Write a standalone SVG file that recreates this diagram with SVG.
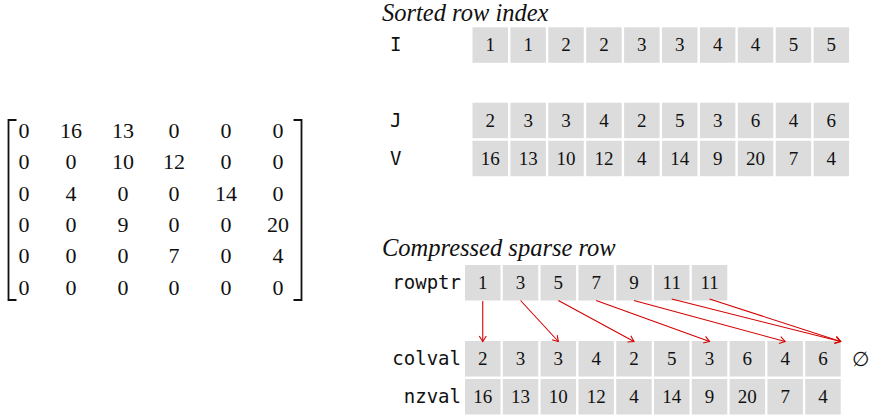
<svg xmlns="http://www.w3.org/2000/svg" width="875" height="417" viewBox="0 0 875 417">
<style>
.bg{fill:#ffffff}
.cell{fill:#dcdcdc}
.num{font-family:'Liberation Serif','Times New Roman','DejaVu Serif',serif;font-size:19px;fill:#111;text-anchor:middle}
.mat{font-family:'Liberation Serif','Times New Roman','DejaVu Serif',serif;font-size:22px;fill:#111;text-anchor:middle}
.lab{font-family:'DejaVu Sans Mono',monospace;font-size:19px;fill:#111}
.ttl{font-family:'Liberation Serif','Times New Roman','DejaVu Serif',serif;font-style:italic;font-size:24.5px;fill:#111}
.br{fill:none;stroke:#111;stroke-width:1.8}
.conn{fill:none;stroke:#d40000;stroke-width:1.1}
</style>
<defs>
<marker id="ah" markerUnits="userSpaceOnUse" markerWidth="12" markerHeight="12" viewBox="-7 -6 8 12" refX="0" refY="0" orient="auto">
<path d="M-5.5,-3.5 L0,0 L-5.5,3.5" fill="none" stroke="#d40000" stroke-width="1.1"/>
</marker>
</defs>
<rect class="bg" x="0" y="0" width="875" height="417"/>

<g id="matrix">
<path class="br" d="M16.5,120 H8.5 V300 H16.5"/>
<path class="br" d="M293.5,120 H301.5 V300 H293.5"/>
<g class="mat" font-family="Liberation Serif, Times New Roman, serif">
<text x="24" y="137.5">0</text><text x="71" y="137.5">16</text><text x="123" y="137.5">13</text><text x="174" y="137.5">0</text><text x="226" y="137.5">0</text><text x="278" y="137.5">0</text>
<text x="24" y="169">0</text><text x="71" y="169">0</text><text x="123" y="169">10</text><text x="174" y="169">12</text><text x="226" y="169">0</text><text x="278" y="169">0</text>
<text x="24" y="200.5">0</text><text x="71" y="200.5">4</text><text x="123" y="200.5">0</text><text x="174" y="200.5">0</text><text x="226" y="200.5">14</text><text x="278" y="200.5">0</text>
<text x="24" y="231.8">0</text><text x="71" y="231.8">0</text><text x="123" y="231.8">9</text><text x="174" y="231.8">0</text><text x="226" y="231.8">0</text><text x="278" y="231.8">20</text>
<text x="24" y="263.2">0</text><text x="71" y="263.2">0</text><text x="123" y="263.2">0</text><text x="174" y="263.2">7</text><text x="226" y="263.2">0</text><text x="278" y="263.2">4</text>
<text x="24" y="294.5">0</text><text x="71" y="294.5">0</text><text x="123" y="294.5">0</text><text x="174" y="294.5">0</text><text x="226" y="294.5">0</text><text x="278" y="294.5">0</text>
</g>
</g>

<g id="sorted">
<text class="ttl" x="382" y="20.5">Sorted row index</text>
</g>

<g id="arrI">
<text class="lab" x="390" y="50.5">I</text>
<rect class="cell" x="472.5" y="27.3" width="35.5" height="35.5"/>
<rect class="cell" x="510.4" y="27.3" width="35.5" height="35.5"/>
<rect class="cell" x="548.3" y="27.3" width="35.5" height="35.5"/>
<rect class="cell" x="586.2" y="27.3" width="35.5" height="35.5"/>
<rect class="cell" x="624.1" y="27.3" width="35.5" height="35.5"/>
<rect class="cell" x="662" y="27.3" width="35.5" height="35.5"/>
<rect class="cell" x="699.9" y="27.3" width="35.5" height="35.5"/>
<rect class="cell" x="737.8" y="27.3" width="35.5" height="35.5"/>
<rect class="cell" x="775.7" y="27.3" width="35.5" height="35.5"/>
<rect class="cell" x="813.6" y="27.3" width="35.5" height="35.5"/>
<g class="num">
<text x="490.25" y="51.3">1</text><text x="528.15" y="51.3">1</text><text x="566.05" y="51.3">2</text><text x="603.95" y="51.3">2</text><text x="641.85" y="51.3">3</text><text x="679.75" y="51.3">3</text><text x="717.65" y="51.3">4</text><text x="755.55" y="51.3">4</text><text x="793.45" y="51.3">5</text><text x="831.35" y="51.3">5</text>
</g>
</g>

<g id="arrJ">
<text class="lab" x="390" y="126.7">J</text>
<rect class="cell" x="472.5" y="102.7" width="35.5" height="35.5"/>
<rect class="cell" x="510.4" y="102.7" width="35.5" height="35.5"/>
<rect class="cell" x="548.3" y="102.7" width="35.5" height="35.5"/>
<rect class="cell" x="586.2" y="102.7" width="35.5" height="35.5"/>
<rect class="cell" x="624.1" y="102.7" width="35.5" height="35.5"/>
<rect class="cell" x="662" y="102.7" width="35.5" height="35.5"/>
<rect class="cell" x="699.9" y="102.7" width="35.5" height="35.5"/>
<rect class="cell" x="737.8" y="102.7" width="35.5" height="35.5"/>
<rect class="cell" x="775.7" y="102.7" width="35.5" height="35.5"/>
<rect class="cell" x="813.6" y="102.7" width="35.5" height="35.5"/>
<g class="num">
<text x="490.25" y="126.7">2</text><text x="528.15" y="126.7">3</text><text x="566.05" y="126.7">3</text><text x="603.95" y="126.7">4</text><text x="641.85" y="126.7">2</text><text x="679.75" y="126.7">5</text><text x="717.65" y="126.7">3</text><text x="755.55" y="126.7">6</text><text x="793.45" y="126.7">4</text><text x="831.35" y="126.7">6</text>
</g>
</g>

<g id="arrV">
<text class="lab" x="390" y="164.7">V</text>
<rect class="cell" x="472.5" y="140.7" width="35.5" height="35.5"/>
<rect class="cell" x="510.4" y="140.7" width="35.5" height="35.5"/>
<rect class="cell" x="548.3" y="140.7" width="35.5" height="35.5"/>
<rect class="cell" x="586.2" y="140.7" width="35.5" height="35.5"/>
<rect class="cell" x="624.1" y="140.7" width="35.5" height="35.5"/>
<rect class="cell" x="662" y="140.7" width="35.5" height="35.5"/>
<rect class="cell" x="699.9" y="140.7" width="35.5" height="35.5"/>
<rect class="cell" x="737.8" y="140.7" width="35.5" height="35.5"/>
<rect class="cell" x="775.7" y="140.7" width="35.5" height="35.5"/>
<rect class="cell" x="813.6" y="140.7" width="35.5" height="35.5"/>
<g class="num">
<text x="490.25" y="164.7">16</text><text x="528.15" y="164.7">13</text><text x="566.05" y="164.7">10</text><text x="603.95" y="164.7">12</text><text x="641.85" y="164.7">4</text><text x="679.75" y="164.7">14</text><text x="717.65" y="164.7">9</text><text x="755.55" y="164.7">20</text><text x="793.45" y="164.7">7</text><text x="831.35" y="164.7">4</text>
</g>
</g>

<g id="csr">
<text class="ttl" x="382" y="255.5">Compressed sparse row</text>
</g>

<g id="rowptr">
<text class="lab" x="461" y="289" text-anchor="end">rowptr</text>
<rect class="cell" x="465" y="265" width="35.5" height="35.5"/>
<rect class="cell" x="502.8" y="265" width="35.5" height="35.5"/>
<rect class="cell" x="540.6" y="265" width="35.5" height="35.5"/>
<rect class="cell" x="578.4" y="265" width="35.5" height="35.5"/>
<rect class="cell" x="616.2" y="265" width="35.5" height="35.5"/>
<rect class="cell" x="654" y="265" width="35.5" height="35.5"/>
<rect class="cell" x="691.8" y="265" width="35.5" height="35.5"/>
<g class="num">
<text x="482.75" y="289">1</text><text x="520.55" y="289">3</text><text x="558.35" y="289">5</text><text x="596.15" y="289">7</text><text x="633.95" y="289">9</text><text x="671.75" y="289">11</text><text x="709.55" y="289">11</text>
</g>
</g>

<g id="colval">
<text class="lab" x="461" y="365" text-anchor="end">colval</text>
<rect class="cell" x="465" y="341" width="35.5" height="35.5"/>
<rect class="cell" x="502.8" y="341" width="35.5" height="35.5"/>
<rect class="cell" x="540.6" y="341" width="35.5" height="35.5"/>
<rect class="cell" x="578.4" y="341" width="35.5" height="35.5"/>
<rect class="cell" x="616.2" y="341" width="35.5" height="35.5"/>
<rect class="cell" x="654" y="341" width="35.5" height="35.5"/>
<rect class="cell" x="691.8" y="341" width="35.5" height="35.5"/>
<rect class="cell" x="729.6" y="341" width="35.5" height="35.5"/>
<rect class="cell" x="767.4" y="341" width="35.5" height="35.5"/>
<rect class="cell" x="805.2" y="341" width="35.5" height="35.5"/>
<g class="num">
<text x="482.75" y="365">2</text><text x="520.55" y="365">3</text><text x="558.35" y="365">3</text><text x="596.15" y="365">4</text><text x="633.95" y="365">2</text><text x="671.75" y="365">5</text><text x="709.55" y="365">3</text><text x="747.35" y="365">6</text><text x="785.15" y="365">4</text><text x="822.95" y="365">6</text>
</g>
<text x="860" y="366" text-anchor="middle" style="font-family:'DejaVu Serif',serif;font-size:20px;fill:#111">∅</text>
</g>

<g id="nzval">
<text class="lab" x="461" y="403" text-anchor="end">nzval</text>
<rect class="cell" x="465" y="379" width="35.5" height="35.5"/>
<rect class="cell" x="502.8" y="379" width="35.5" height="35.5"/>
<rect class="cell" x="540.6" y="379" width="35.5" height="35.5"/>
<rect class="cell" x="578.4" y="379" width="35.5" height="35.5"/>
<rect class="cell" x="616.2" y="379" width="35.5" height="35.5"/>
<rect class="cell" x="654" y="379" width="35.5" height="35.5"/>
<rect class="cell" x="691.8" y="379" width="35.5" height="35.5"/>
<rect class="cell" x="729.6" y="379" width="35.5" height="35.5"/>
<rect class="cell" x="767.4" y="379" width="35.5" height="35.5"/>
<rect class="cell" x="805.2" y="379" width="35.5" height="35.5"/>
<g class="num">
<text x="482.75" y="403">16</text><text x="520.55" y="403">13</text><text x="558.35" y="403">10</text><text x="596.15" y="403">12</text><text x="633.95" y="403">4</text><text x="671.75" y="403">14</text><text x="709.55" y="403">9</text><text x="747.35" y="403">20</text><text x="785.15" y="403">7</text><text x="822.95" y="403">4</text>
</g>
</g>

<g id="connectors" class="conn">
<line x1="482.75" y1="301" x2="482.75" y2="341.5" marker-end="url(#ah)"/>
<line x1="520.55" y1="300.5" x2="558.35" y2="341.5" marker-end="url(#ah)"/>
<line x1="558.35" y1="300.5" x2="633.95" y2="341.5" marker-end="url(#ah)"/>
<line x1="596.15" y1="300.5" x2="709.55" y2="341.5" marker-end="url(#ah)"/>
<line x1="633.95" y1="300.5" x2="785.15" y2="341.5" marker-end="url(#ah)"/>
<line x1="671.75" y1="299" x2="840.7" y2="341.5" marker-end="url(#ah)"/>
<line x1="709.55" y1="299" x2="840.7" y2="341.5" marker-end="url(#ah)"/>
</g>
</svg>
